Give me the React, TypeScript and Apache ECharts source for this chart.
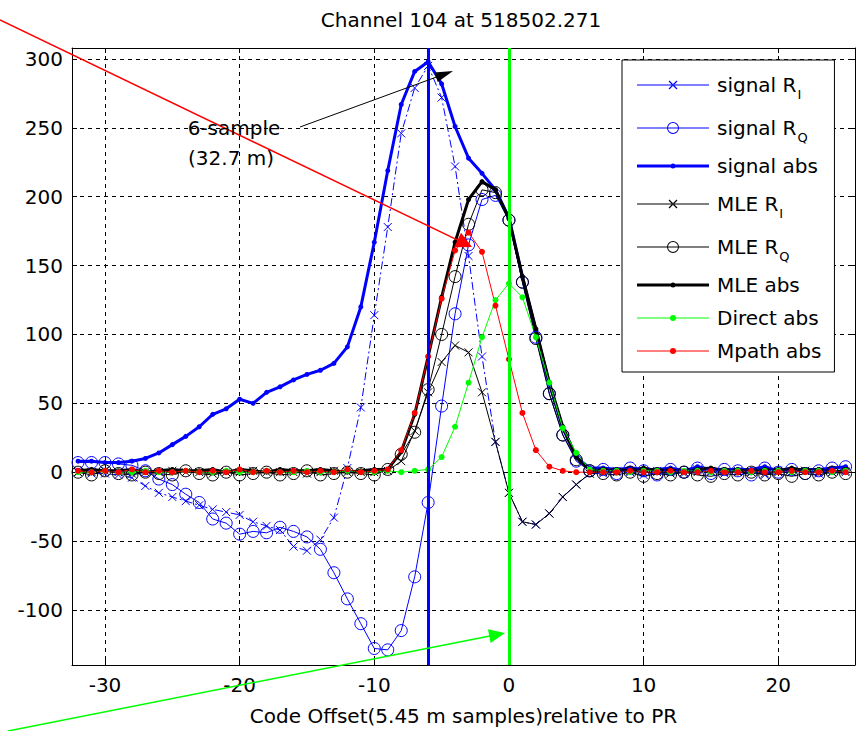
import { useEffect, useRef } from 'react';
import * as echarts from 'echarts';

// Code offsets (samples) relative to PR
const offsets = [
  -32, -31, -30, -29, -28, -27, -26, -25, -24, -23, -22, -21, -20, -19, -18, -17, -16, -15, -14, -13,
  -12, -11, -10, -9, -8, -7, -6, -5, -4, -3, -2, -1, 0, 1, 2, 3, 4, 5, 6,
  7, 8, 9, 10, 11, 12, 13, 14, 15, 16, 17, 18, 19, 20, 21, 22, 23, 24, 25,
];

const signalRI = [
  0, -1, -1, -2, -4, -10, -15, -18, -21, -24, -27, -29, -31, -36, -39, -42, -54, -57, -49, -33,
  3, 47, 114, 178, 246, 279, 295, 272, 222, 157, 84, 22, -15, -36, -38, -30, -18, -9, -1,
  -1, 1, 0, -2, 1, 0, -1, 2, 0, -1, 1, 0, -2, 1, 0, 1, -1, 0, 1,
];

const signalRQ = [
  7, 7, 7, 6, 5, 1, -5, -9, -16, -22, -34, -37, -45, -43, -44, -40, -43, -47, -56, -73,
  -92, -110, -128, -129, -115, -76, -22, 48, 115, 165, 198, 201, 183, 138, 98, 57, 27, 8, 1,
  2, -1, 3, 1, -2, 2, 0, 3, -1, 2, 1, -2, 3, 0, 2, -1, 1, 3, 4,
];

const signalAbs = [
  8, 8, 7, 7, 8, 10, 14, 20, 26, 33, 42, 46, 53, 50, 58, 62, 67, 71, 74, 79,
  91, 120, 167, 219, 267, 291, 298, 282, 251, 228, 217, 205, 185, 142, 103, 64, 32, 11, 3,
  3, 2, 3, 2, 2, 3, 1, 4, 2, 2, 2, 2, 4, 1, 2, 2, 2, 3, 4,
];

const mleRI = [
  0, 0, 1, 0, -1, 0, 0, 1, 0, 0, -1, 0, 0, 1, 0, 0, 0, -1, 0, 1, 0, 0, 0,
  1, 8, 30, 58, 80, 92, 87, 58, 22, -15, -36, -38, -30, -18, -9, -1,
  0, 0, 1, 0, 0, -1, 0, 0, 1, 0, 0, 0, -1, 0, 0, 1, 0, 0, 0,
];

const mleRQ = [
  0, -2, 1, -1, -2, 0, -1, -2, 1, -1, -2, 0, -2, -1, 0, -2, -1, 1, -2, -1, 0, -1, -2,
  2, 13, 29, 60, 100, 142, 180, 205, 203, 183, 138, 97, 57, 27, 9, 1,
  -1, -2, 0, -3, -1, -2, 0, -2, -3, -1, -2, 0, -2, -1, -3, -1, -2, 0, -1,
];

const mleAbs = [
  1, 2, 1, 1, 2, 0, 1, 2, 1, 1, 2, 0, 2, 1, 0, 2, 1, 1, 2, 1, 0, 1, 2,
  2, 15, 42, 84, 127, 167, 198, 211, 205, 184, 142, 104, 65, 33, 11, 2,
  1, 2, 1, 3, 1, 2, 0, 2, 3, 1, 2, 0, 2, 1, 3, 1, 2, 0, 1,
];

const directAbs = [
  0, 0, 1, 0, 0, 1, 0, 0, 1, 0, 0, 1, 0, 0, 1, 0, 0, 1, 0, 0, 1, 0, 0, 1, 0,
  1, 2, 11, 33, 65, 98, 125, 137, 127, 98, 65, 32, 14, 2,
  1, 1, 0, 1, 1, 0, 1, 1, 0, 1, 1, 0, 1, 1, 0, 1, 1, 0, 1,
];

const mpathAbs = [
  1, 0, 1, 0, 2, 0, 1, 0, 1, 0, 1, 0, 2, 0, 1, 0, 1, 0, 1, 0, 2, 0, 1,
  2, 16, 43, 84, 126, 161, 174, 160, 121, 82, 43, 16, 4, 1, 0, 0,
  0, 0, 1, 0, 0, 1, 0, 0, 1, 0, 0, 1, 0, 0, 1, 0, 0, 1, 0,
];

// Estimated path delays (multipath peak, direct path)
const delayLines = [-6, 0];

const xTicks = [-30, -20, -10, 0, 10, 20];
const yTicks = [-100, -50, 0, 50, 100, 150, 200, 250, 300];

const seriesNames = [
  'signal R_I', 'signal R_Q', 'signal abs', 'MLE R_I', 'MLE R_Q', 'MLE abs', 'Direct abs', 'Mpath abs',
];
const legendLabels = [
  'signal R{sub|I}', 'signal R{sub|Q}', 'signal abs', 'MLE R{sub|I}', 'MLE R{sub|Q}', 'MLE abs', 'Direct abs', 'Mpath abs',
];

const titleText = 'Channel 104 at 518502.271';
const xAxisTitle = 'Code Offset(5.45 m samples)relative to PR';
const noteLines = ['6-sample', '(32.7 m)'];

const FONT = '"DejaVu Sans", Arial, sans-serif';
const BLUE = '#0000ff';
const BLACK = '#000000';
const GREEN = '#00ff00';
const RED = '#ff0000';
const CROSS = 'path://M0 0L8 8M8 0L0 8';

// ---- legend icon paths (72 x 14 box, line through a marker) ----
const IW = 72;
const CY = 7;
const bar = (w: number) =>
  `M0 ${CY - w / 2}L${IW} ${CY - w / 2}L${IW} ${CY + w / 2}L0 ${CY + w / 2}Z`;
const ring = (r: number, t: number) => {
  const c = IW / 2;
  const ri = r - t;
  return (
    `M${c - r} ${CY}A${r} ${r} 0 1 1 ${c + r} ${CY}A${r} ${r} 0 1 1 ${c - r} ${CY}Z` +
    `M${c - ri} ${CY}A${ri} ${ri} 0 1 0 ${c + ri} ${CY}A${ri} ${ri} 0 1 0 ${c - ri} ${CY}Z`
  );
};
const disc = (r: number) => {
  const c = IW / 2;
  return `M${c - r} ${CY}A${r} ${r} 0 1 1 ${c + r} ${CY}A${r} ${r} 0 1 1 ${c - r} ${CY}Z`;
};
const cross = (a: number, t: number) => {
  const c = IW / 2;
  const o = t / 2 / Math.SQRT2;
  const p1 = [
    [c - a + o, CY - a - o], [c + a + o, CY + a - o], [c + a - o, CY + a + o], [c - a - o, CY - a + o],
  ];
  const p2 = [
    [c - a - o, CY + a - o], [c - a + o, CY + a + o], [c + a + o, CY - a + o], [c + a - o, CY - a - o],
  ];
  const poly = (p: number[][]) =>
    `M${p[0][0]} ${p[0][1]}L${p[1][0]} ${p[1][1]}L${p[2][0]} ${p[2][1]}L${p[3][0]} ${p[3][1]}Z`;
  return poly(p1) + poly(p2);
};

type Style = {
  color: string;
  width: number;
  dash?: number[];
  symbol: string;
  size: number;
  hollow: boolean;
  icon: string;
};

const styles: Style[] = [
  { color: BLUE, width: 1, dash: [8, 3, 2, 3], symbol: CROSS, size: 8, hollow: true, icon: bar(1) + cross(4, 1.2) },
  { color: BLUE, width: 1, symbol: 'circle', size: 12, hollow: true, icon: bar(1) + ring(6, 1) },
  { color: BLUE, width: 3, symbol: 'circle', size: 5, hollow: false, icon: bar(3) + disc(2.5) },
  { color: BLACK, width: 1, symbol: CROSS, size: 8, hollow: true, icon: bar(1) + cross(4, 1.2) },
  { color: BLACK, width: 1, symbol: 'circle', size: 12, hollow: true, icon: bar(1) + ring(6, 1) },
  { color: BLACK, width: 3, symbol: 'circle', size: 5, hollow: false, icon: bar(3) + disc(2.5) },
  { color: GREEN, width: 1, symbol: 'circle', size: 6, hollow: false, icon: bar(1) + disc(3) },
  { color: RED, width: 1, symbol: 'circle', size: 6, hollow: false, icon: bar(1) + disc(3) },
];

const seriesValues = [signalRI, signalRQ, signalAbs, mleRI, mleRQ, mleAbs, directAbs, mpathAbs];

// ---- annotation arrows (pixel positions on the canvas) ----
function arrow(
  from: number[],
  to: number[],
  color: string,
  lw: number,
  headLen: number,
  headHalf: number,
) {
  const dx = to[0] - from[0];
  const dy = to[1] - from[1];
  const len = Math.hypot(dx, dy);
  const ux = dx / len;
  const uy = dy / len;
  const px = -uy;
  const py = ux;
  const bx = to[0] - ux * headLen;
  const by = to[1] - uy * headLen;
  return [
    {
      type: 'line',
      silent: true,
      z: 120,
      shape: { x1: from[0], y1: from[1], x2: bx + ux * 2, y2: by + uy * 2 },
      style: { stroke: color, lineWidth: lw },
    },
    {
      type: 'polygon',
      silent: true,
      z: 121,
      shape: {
        points: [
          [to[0], to[1]],
          [bx + px * headHalf, by + py * headHalf],
          [bx - px * headHalf, by - py * headHalf],
        ],
      },
      style: { fill: color },
    },
  ];
}

function buildOption() {
  const series: any[] = seriesNames.map((name, i) => {
    const s = styles[i];
    return {
      name,
      type: 'line',
      data: offsets.map((x, k) => [x, seriesValues[i][k]]),
      symbol: s.symbol,
      symbolSize: s.size,
      showSymbol: true,
      showAllSymbol: true,
      silent: true,
      emphasis: { disabled: true },
      lineStyle: { color: s.color, width: s.width, type: s.dash ? s.dash : 'solid' },
      itemStyle: s.hollow
        ? { color: 'rgba(0,0,0,0)', borderColor: s.color, borderWidth: 1 }
        : { color: s.color, borderColor: s.color, borderWidth: 0 },
      z: 2,
    };
  });

  // vertical delay markers drawn over the curves
  series[series.length - 1].markLine = {
    silent: true,
    symbol: ['none', 'none'],
    label: { show: false },
    emphasis: { disabled: true },
    data: delayLines.map((x, i) => ({
      xAxis: x,
      lineStyle: { color: i === 0 ? BLUE : GREEN, width: 3, type: 'solid' },
    })),
  };

  const tickLabel = (list: number[]) => (v: number) =>
    list.some((t) => Math.abs(t - v) < 1e-6) ? String(Math.round(v)) : '';

  const axisCommon = {
    type: 'value',
    axisLine: { show: true, onZero: false, lineStyle: { color: BLACK, width: 1 } },
    axisTick: { show: true, inside: true, length: 5, lineStyle: { color: BLACK, width: 1 } },
  };

  const xRange = { min: -32.45, max: 25.7, splitNumber: 5 };
  const yRange = { min: -140, max: 308, splitNumber: 9 };

  return {
    animation: false,
    backgroundColor: '#ffffff',
    textStyle: { fontFamily: FONT },
    title: {
      text: titleText,
      left: 461,
      top: 10,
      textAlign: 'center',
      padding: 0,
      textStyle: { fontFamily: FONT, fontSize: 20, fontWeight: 'normal', color: BLACK },
    },
    grid: {
      left: 72,
      right: 2,
      top: 48,
      bottom: 66,
      containLabel: false,
      outerBoundsMode: 'none',
    },
    legend: {
      orient: 'vertical',
      left: 622,
      top: 60,
      padding: [9, 13, 10, 15],
      itemGap: 11,
      itemWidth: 72,
      itemHeight: 14,
      selectedMode: false,
      backgroundColor: '#ffffff',
      borderColor: BLACK,
      borderWidth: 1,
      borderRadius: 0,
      formatter: (name: string) => legendLabels[seriesNames.indexOf(name)],
      textStyle: {
        fontFamily: FONT,
        fontSize: 20,
        color: BLACK,
        lineHeight: 22,
        padding: [0, 0, 0, 3],
        rich: {
          sub: { fontFamily: FONT, fontSize: 13, lineHeight: 15, color: BLACK, padding: [19, 0, 0, 1] },
        },
      },
      data: seriesNames.map((name, i) => ({
        name,
        icon: 'path://' + styles[i].icon,
        itemStyle: { color: styles[i].color, borderWidth: 0, opacity: 1 },
      })),
    },
    xAxis: [
      {
        ...axisCommon,
        ...xRange,
        position: 'bottom',
        axisLabel: {
          show: true,
          margin: 10,
          color: BLACK,
          fontFamily: FONT,
          fontSize: 20,
          formatter: tickLabel(xTicks),
        },
        splitLine: { show: true, lineStyle: { color: BLACK, width: 1, type: [4, 4] } },
        name: xAxisTitle,
        nameLocation: 'middle',
        nameGap: 41,
        nameTextStyle: { color: BLACK, fontFamily: FONT, fontSize: 20 },
      },
      {
        ...axisCommon,
        ...xRange,
        position: 'top',
        axisLabel: { show: false },
        splitLine: { show: false },
      },
    ],
    yAxis: [
      {
        ...axisCommon,
        ...yRange,
        position: 'left',
        axisLabel: {
          show: true,
          margin: 9,
          color: BLACK,
          fontFamily: FONT,
          fontSize: 20,
          formatter: tickLabel(yTicks),
        },
        splitLine: { show: true, lineStyle: { color: BLACK, width: 1, type: [4, 4] } },
      },
      {
        ...axisCommon,
        ...yRange,
        position: 'right',
        axisLabel: { show: false },
        splitLine: { show: false },
      },
    ],
    series,
    graphic: [
      ...arrow([0, 20], [472, 247], RED, 1.5, 16, 8),
      ...arrow([8, 731], [505, 633], GREEN, 1.5, 16, 7),
      ...arrow([300, 127], [453, 71], BLACK, 1, 18, 5),
      {
        type: 'text',
        silent: true,
        z: 122,
        x: 234,
        y: 128,
        style: {
          text: noteLines[0],
          font: `20px ${FONT}`,
          fill: BLACK,
          align: 'center',
          verticalAlign: 'middle',
        },
      },
      {
        type: 'text',
        silent: true,
        z: 122,
        x: 231,
        y: 158,
        style: {
          text: noteLines[1],
          font: `20px ${FONT}`,
          fill: BLACK,
          align: 'center',
          verticalAlign: 'middle',
        },
      },
    ],
  };
}

export default function App() {
  const ref = useRef<HTMLDivElement>(null);

  useEffect(() => {
    const el = ref.current;
    if (!el) return;
    const chart = echarts.init(el, undefined, { renderer: 'svg' });
    chart.setOption(buildOption() as any);
    return () => {
      chart.dispose();
    };
  }, []);

  return (
    <div
      ref={ref}
      style={{ position: 'fixed', left: 0, top: 0, width: 857, height: 731, background: '#ffffff' }}
    />
  );
}
